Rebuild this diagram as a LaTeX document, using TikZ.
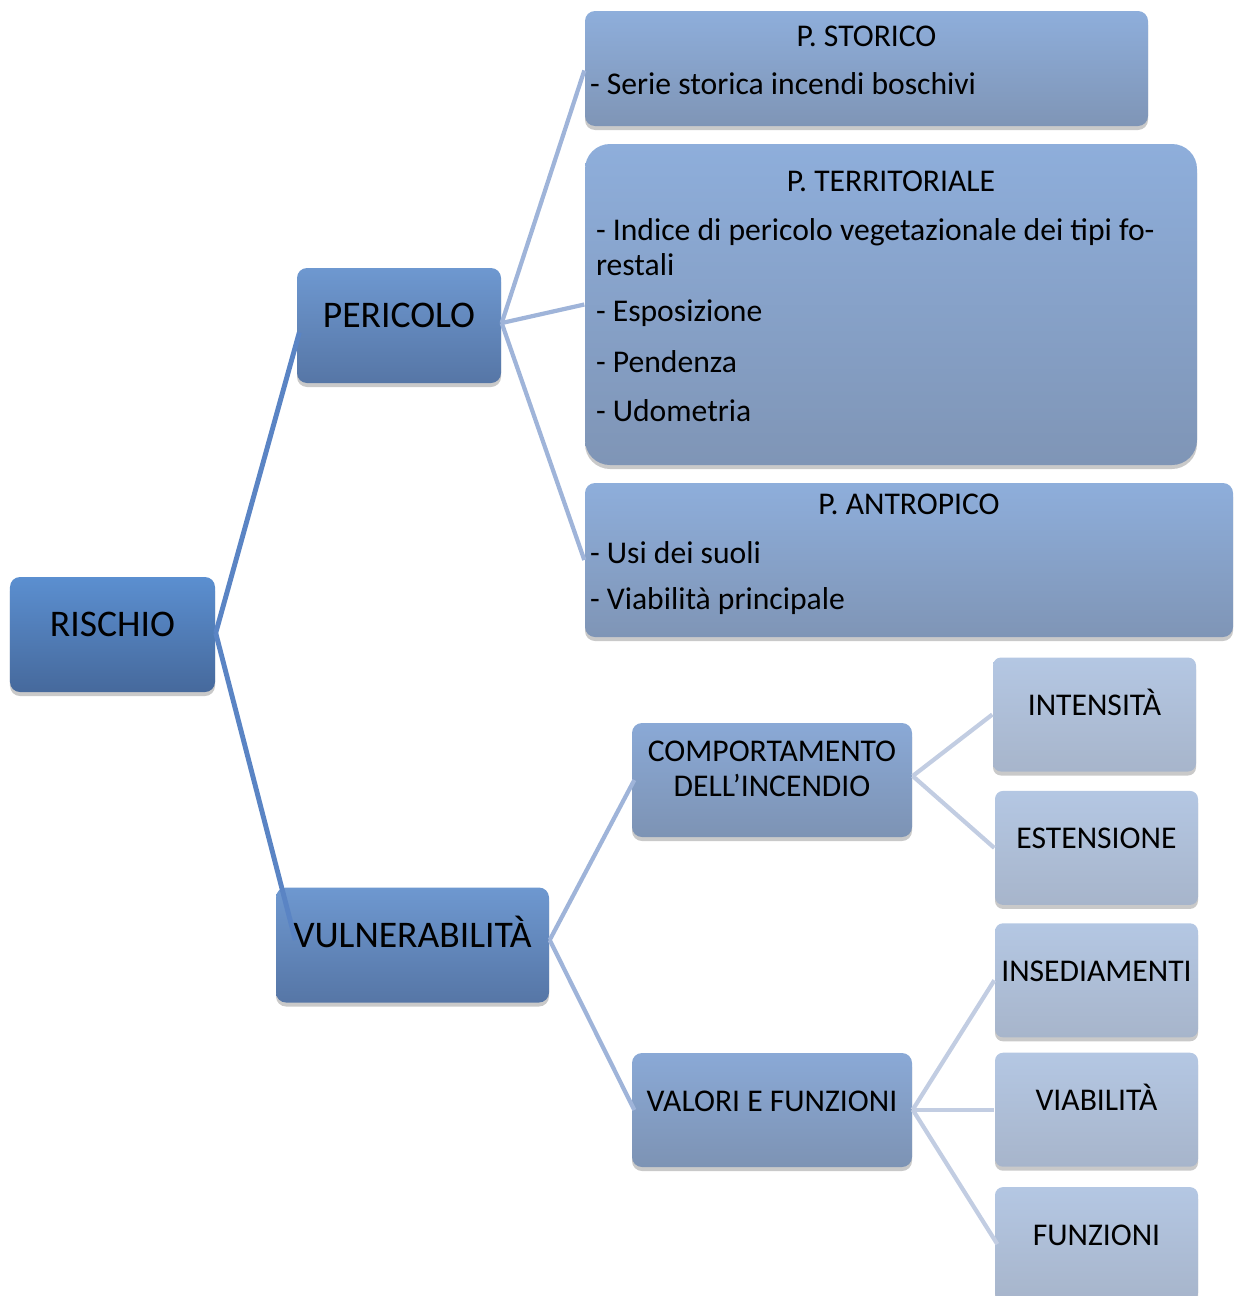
\documentclass[tikz,border=0pt]{standalone}
\usepackage{fontspec}
\setmainfont{Carlito}
\usetikzlibrary{positioning,calc,shadows}

\definecolor{rootTop}{HTML}{5B8FD0}
\definecolor{rootBot}{HTML}{46699C}
\definecolor{midTop}{HTML}{6E98D0}
\definecolor{midBot}{HTML}{5676A6}
\definecolor{pTop}{HTML}{8EAEDB}
\definecolor{pBot}{HTML}{7F95B6}
\definecolor{subTop}{HTML}{8AA9D6}
\definecolor{subBot}{HTML}{7D93B4}
\definecolor{leafTop}{HTML}{B4C7E3}
\definecolor{leafBot}{HTML}{A7B5CB}
\definecolor{linkA}{HTML}{5A84C4}
\definecolor{linkB}{HTML}{9FB4D9}
\definecolor{linkC}{HTML}{C2CDE2}

\tikzset{
  box/.style={rectangle, rounded corners=.1cm, inner sep=0pt,
    drop shadow={shadow xshift=0cm, shadow yshift=-.04cm, opacity=.3, fill=black!70}},
  bigfont/.style={font=\fontsize{10.7}{12}\selectfont, text height=.26cm, text depth=.22cm},
  smallfont/.style={font=\fontsize{9}{10}\selectfont},
  rootbox/.style={box, bigfont, top color=rootTop, bottom color=rootBot},
  midbox/.style={box, bigfont, top color=midTop, bottom color=midBot, minimum height=1.15cm},
  pbox/.style={box, top color=pTop, bottom color=pBot},
  subbox/.style={box, smallfont, top color=subTop, bottom color=subBot, minimum width=2.8cm, minimum height=1.14cm, align=center},
  leafbox/.style={box, smallfont, text height=.22cm, text depth=.2cm, top color=leafTop, bottom color=leafBot, rounded corners=.08cm, minimum width=2.03cm, minimum height=1.14cm},
  titletxt/.style={inner sep=0pt, smallfont},
  itemtxt/.style={inner sep=0pt, anchor=west, smallfont, align=left},
  linkA/.style={draw=linkA, line width=1.4pt},
  linkB/.style={draw=linkB, line width=1.2pt},
  linkC/.style={draw=linkC, line width=1.2pt}
}

\begin{document}
\begin{tikzpicture}
\useasboundingbox (0,0) rectangle (12.39,-12.96);

\node[rootbox, minimum width=2.05cm, minimum height=1.15cm] (rischio) at (1.125,-6.345) {RISCHIO};
\node[midbox, minimum width=2.04cm] (pericolo) at (3.99,-3.255) {PERICOLO};
\node[midbox, minimum width=2.73cm] (vulner) at (4.125,-9.45) {VULNERABILITÀ};

% pericolo
\node[pbox, minimum width=5.63cm, minimum height=1.15cm] (storico) at (8.665,-0.685) {};
\node[pbox, rounded corners=.25cm, minimum width=6.12cm, minimum height=3.21cm] (territ) at (8.91,-3.045) {};
\node[pbox, minimum width=6.48cm, minimum height=1.54cm] (antrop) at (9.09,-5.60) {};

\node[titletxt] (storicoT) at ($(storico.north)+(0,-.26)$) {P. STORICO};
\node[itemtxt] (storico1) at ($(storico.north west)+(.05,-.73)$) {- Serie storica incendi boschivi};

\node[titletxt] (territT) at ($(territ.north)+(0,-.38)$) {P. TERRITORIALE};
\node[itemtxt] (territ1) at ($(territ.north west)+(.11,-1.035)$) {- Indice di pericolo vegetazionale dei tipi fo-\\restali};
\node[itemtxt] (territ2) at ($(territ.north west)+(.11,-1.70)$) {- Esposizione};
\node[itemtxt] (territ3) at ($(territ.north west)+(.11,-2.18)$) {- Pendenza};
\node[itemtxt] (territ4) at ($(territ.north west)+(.11,-2.67)$) {- Udometria};

\node[titletxt] (antropT) at ($(antrop.north)+(0,-.22)$) {P. ANTROPICO};
\node[itemtxt] (antrop1) at ($(antrop.north west)+(.05,-.70)$) {- Usi dei suoli};
\node[itemtxt] (antrop2) at ($(antrop.north west)+(.05,-1.19)$) {- Viabilità principale};

% vulnerabilita
\node[subbox] (comport) at (7.72,-7.80) {COMPORTAMENTO\\DELL'INCENDIO\\[-.13cm]};
\node[subbox, text height=.22cm, text depth=.2cm] (valori) at (7.72,-11.10) {VALORI E FUNZIONI};

\node[leafbox] (intens) at (10.945,-7.145) {INTENSITÀ};
\node[leafbox, below=.18cm of intens.south, anchor=north, xshift=.02cm] (estens) {ESTENSIONE};
\node[leafbox, below=.17cm of estens] (insed) {INSEDIAMENTI};
\node[leafbox, below=.14cm of insed] (viab) {VIABILITÀ};
\node[leafbox, below=.19cm of viab] (funz) {FUNZIONI};

% start points of the connectors
\coordinate (rischioE) at ($(rischio.east)+(0,.015)$);
\coordinate (pericoloE) at ($(pericolo.east)+(0,.025)$);
\coordinate (vulnerE) at ($(vulner.east)+(0,.05)$);
\coordinate (comportE) at ($(comport.east)+(0,.04)$);
\coordinate (valoriE) at (viab.west -| valori.east);

% connectors
\draw[linkA] (rischioE) -- ($(pericolo.west)+(.03,-.07)$);
\draw[linkA] (rischioE) -- ($(vulner.west)+(.2,.05)$);
\draw[linkB] (pericoloE) -- ($(storico.west)+(0,-.02)$);
\draw[linkB] (pericoloE) -- (territ.west);
\draw[linkB] (pericoloE) -- (antrop.west);
\draw[linkB] (vulnerE) -- ($(comport.west)+(.03,0)$);
\draw[linkB] (vulnerE) -- ($(valori.west)+(.03,0)$);
\draw[linkC] (comportE) -- (intens.west);
\draw[linkC] (comportE) -- (estens.west);
\draw[linkC] (valoriE) -- (insed.west);
\draw[linkC] (valoriE) -- (viab.west);
\draw[linkC] (valoriE) -- ($(funz.west)+(.03,0)$);
\end{tikzpicture}
\end{document}
